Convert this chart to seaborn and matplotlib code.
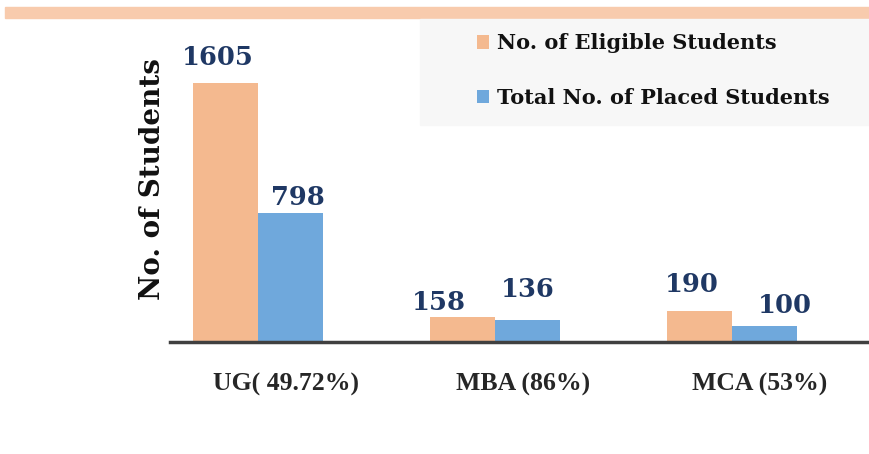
import pandas as pd
import matplotlib.pyplot as plt
import matplotlib.transforms as mtransforms
import seaborn as sns
from matplotlib.patches import Rectangle

# data
programs = ["UG( 49.72%)", "MBA (86%)", "MCA (53%)"]
eligible = [1605, 158, 190]
placed = [798, 136, 100]
series = ["No. of Eligible Students", "Total No. of Placed Students"]

df = pd.DataFrame({
    "Program": programs * 2,
    "Series": [series[0]] * 3 + [series[1]] * 3,
    "Students": eligible + placed,
})

# label nudges in pixels (dx, gap above bar), as placed in the original
label_nudge = [[(-8, 18), (-23, 7), (-8, 19)],
               [(7, 8), (0, 23), (20, 13)]]

sns.set_theme(style="white")
plt.rcParams["font.family"] = ["DejaVu Serif"]

fig = plt.figure(figsize=(8.69, 4.54), dpi=100)
ax = fig.add_axes([0.1956, 0.2467, 0.8044, 0.665])

sns.barplot(data=df, x="Program", y="Students", hue="Series",
            palette=["#F4B98F", "#6FA8DC"], width=0.55, gap=0,
            saturation=1, linewidth=0, ax=ax)

for cont, nudges in zip(ax.containers, label_nudge):
    for bar, (dx, dy) in zip(cont, nudges):
        ax.annotate(f"{bar.get_height():.0f}",
                    (bar.get_x() + bar.get_width() / 2, bar.get_height()),
                    xytext=(dx, dy), textcoords="offset pixels",
                    ha="center", va="baseline", fontsize=18.5,
                    fontweight="bold", color="#1F3864")

ax.set_ylim(0, 1871)
ax.set_xlim(-0.371, 2.578)
ax.set_yticks([])
ax.set_xlabel("")
ax.set_ylabel("")
fig.text(0.176, 0.605, "No. of Students", rotation=90, ha="center", va="center",
         fontsize=20, fontweight="bold", color="#111111")
ax.tick_params(axis="x", length=0, pad=22)
shift = mtransforms.ScaledTranslation(0.28, 0, fig.dpi_scale_trans)
for lab in ax.get_xticklabels():
    lab.set_fontsize(18.5)
    lab.set_fontweight("bold")
    lab.set_family(["Liberation Serif"])
    lab.set_transform(lab.get_transform() + shift)
for s in ["top", "left", "right"]:
    ax.spines[s].set_visible(False)
ax.spines["bottom"].set_linewidth(2.5)
ax.spines["bottom"].set_color("#404040")

# top decorative band and legend background
fig.patches.append(Rectangle((0.006, 0.9604), 0.994, 0.0242, transform=fig.transFigure,
                             color="#F8CBAD", zorder=0))
fig.patches.append(Rectangle((0.4833, 0.7247), 0.5167, 0.2335, transform=fig.transFigure,
                             color="#F7F7F7", zorder=0))

ax.legend_.remove()
handles, labels = ax.get_legend_handles_labels()
leg = fig.legend(handles, labels, loc="upper left", bbox_to_anchor=(0.527, 0.968),
                 frameon=False, handlelength=0.6, handleheight=0.6,
                 handletextpad=0.35, labelspacing=1.65, prop={"weight": "bold", "size": 15})
for t in leg.get_texts():
    t.set_color("#111111")

fig.savefig("out.png", dpi=100)
